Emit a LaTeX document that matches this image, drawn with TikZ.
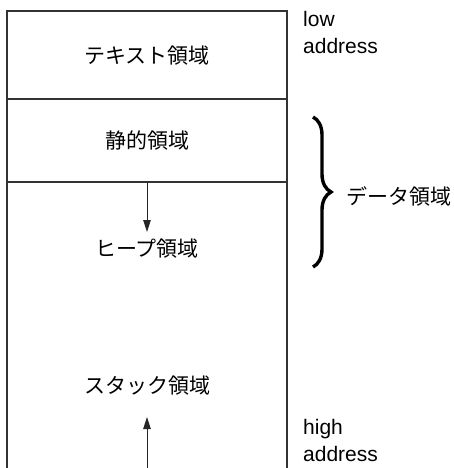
\documentclass[tikz,border=0pt]{standalone}
\usepackage{fontspec}
\setmainfont{Liberation Sans}
\newfontfamily\jpfont{Noto Sans CJK JP}
\usetikzlibrary{arrows.meta,decorations.pathreplacing}
\begin{document}
\begin{tikzpicture}[x=1pt,y=-1pt,
  boxline/.style={line width=1.1pt,draw=black!80},
  region/.style={font=\jpfont\fontsize{21}{25}\selectfont,inner sep=0pt,anchor=center},
  addr/.style={font=\fontsize{21}{27}\selectfont,inner sep=0pt,anchor=base west,align=left},
  flow/.style={line width=0.9pt,draw=black!85,-{Triangle[width=7.5pt,length=12pt]}},
  bracestyle/.style={line width=3.4pt,decorate,decoration={brace,amplitude=18pt,raise=0pt}}]
\useasboundingbox (0,0) rectangle (454,468);
% outline of memory layout (open at the bottom)
\draw[boxline] (7,468) -- (7,11) -- (287,11) -- (287,468);
\draw[boxline] (7,99) -- (287,99);
\draw[boxline] (7,182) -- (287,182);
% region labels
\node[region] (text) at (147,56) {テキスト領域};
\node[region] (static) at (147,141) {静的領域};
\node[region] (heap) at (147,249) {ヒープ領域};
\node[region] (stack) at (147,386) {スタック領域};
% arrows
\coordinate (heaptop) at (147,182);
\coordinate (heapend) at (147,232);
\coordinate (stackbot) at (147,468);
\coordinate (stackend) at (147,417);
\draw[flow] (heaptop) -- (heapend);
\draw[flow] (stackbot) -- (stackend);
% brace and data label
\coordinate (bracetop) at (313,117);
\coordinate (bracebot) at (313,267);
\draw[bracestyle] (bracetop) -- (bracebot);
\node[region,anchor=west] (data) at (346,196) {データ領域};
% addresses
\node[addr] (low) at (303,54) {low\\address};
\node[addr] (high) at (303,461) {high\\address};
\end{tikzpicture}
\end{document}
